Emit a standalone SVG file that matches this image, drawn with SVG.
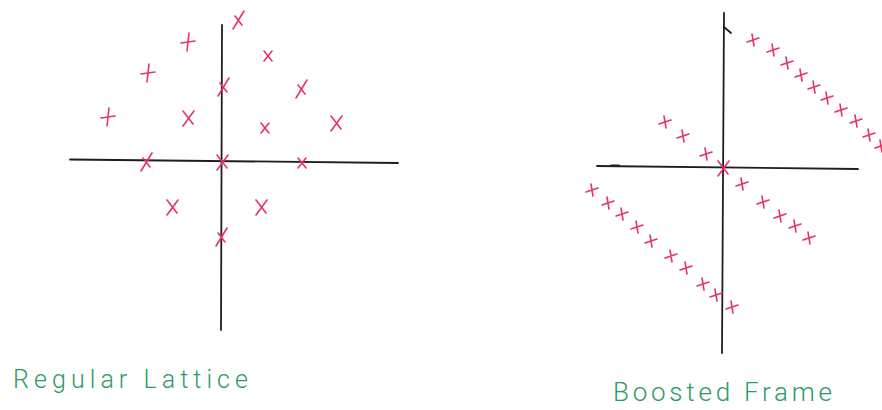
<svg xmlns="http://www.w3.org/2000/svg" width="882" height="410" viewBox="0 0 882 410">
<style>
.ax{stroke:#1e1e1e;stroke-width:1.8;fill:none;stroke-linecap:round}
.cr{stroke:#e6336a;stroke-width:1.6;fill:none;stroke-linecap:round}
.lbl{font-family:"Roboto","Liberation Sans",sans-serif;font-weight:300;fill:#2e9a68}
</style>
<defs>
<path id="X" class="cr" d="M-5,-7 L5,6 M6,-7 L-5,8"/>
<path id="S" class="cr" d="M-3,-4 L4,5 M6,-9 L-5,9"/>
<path id="P" class="cr" d="M1,-9 L-1,9 M-7,1 L7,-1"/>
<path id="x" class="cr" d="M-4,-5 L4,5 M4,-5 L-4,5"/>
<path id="b" class="cr" d="M-6,2 L6,-2 M-1,-6 L1,6"/>
</defs>
<rect width="882" height="410" fill="#ffffff"/>
<g id="regular-lattice">
<g id="axes-left">
<line class="ax" x1="70" y1="159.5" x2="398" y2="163"/>
<line class="ax" x1="222" y1="25" x2="221" y2="330"/>
</g>
<g id="points-left">
<use href="#S" x="238" y="20"/>
<use href="#P" x="188" y="42"/>
<use href="#x" x="268" y="56"/>
<use href="#P" x="148" y="73"/>
<use href="#S" x="223" y="87"/>
<use href="#S" x="301" y="89"/>
<use href="#P" x="108" y="117"/>
<use href="#X" x="188" y="118"/>
<use href="#x" x="265" y="128"/>
<use href="#X" x="336" y="123"/>
<use href="#S" x="146" y="162"/>
<use href="#X" x="222" y="162"/>
<use href="#x" x="302" y="163"/>
<use href="#X" x="172" y="207"/>
<use href="#X" x="261" y="207"/>
<use href="#S" x="221" y="237"/>
</g>
<text id="label-left" class="lbl" x="13" y="388" font-size="25" textLength="235" lengthAdjust="spacing">Regular Lattice</text>
</g>
<g id="boosted-frame">
<g id="axes-right">
<line class="ax" x1="724" y1="13" x2="722" y2="353"/>
<path class="ax" d="M724,27 L731,33"/>
<line class="ax" x1="597" y1="166" x2="858" y2="169"/>
<line class="ax" x1="611" y1="165.5" x2="619" y2="165.5" stroke-width="2.4"/>
</g>
<g id="points-right">
<use href="#b" x="753" y="40"/>
<use href="#b" x="773" y="50"/>
<use href="#b" x="787" y="63"/>
<use href="#b" x="801" y="75"/>
<use href="#b" x="814" y="87"/>
<use href="#b" x="827" y="98"/>
<use href="#b" x="841" y="110"/>
<use href="#b" x="856" y="121"/>
<use href="#b" x="869" y="135"/>
<use href="#b" x="881" y="146"/>
<use href="#b" x="665" y="122"/>
<use href="#b" x="683" y="136"/>
<use href="#b" x="706" y="154"/>
<use href="#X" x="723" y="168"/>
<use href="#b" x="742" y="184"/>
<use href="#b" x="763" y="202"/>
<use href="#b" x="780" y="216"/>
<use href="#b" x="795" y="226"/>
<use href="#b" x="809" y="238"/>
<use href="#b" x="592" y="190"/>
<use href="#b" x="608" y="203"/>
<use href="#b" x="622" y="214"/>
<use href="#b" x="637" y="227"/>
<use href="#b" x="651" y="241"/>
<use href="#b" x="671" y="256"/>
<use href="#b" x="686" y="268"/>
<use href="#b" x="703" y="284"/>
<use href="#b" x="716" y="295"/>
<use href="#b" x="732" y="307"/>
</g>
<text id="label-right" class="lbl" x="613" y="401" font-size="26" textLength="219" lengthAdjust="spacing">Boosted Frame</text>
</g>
</svg>
